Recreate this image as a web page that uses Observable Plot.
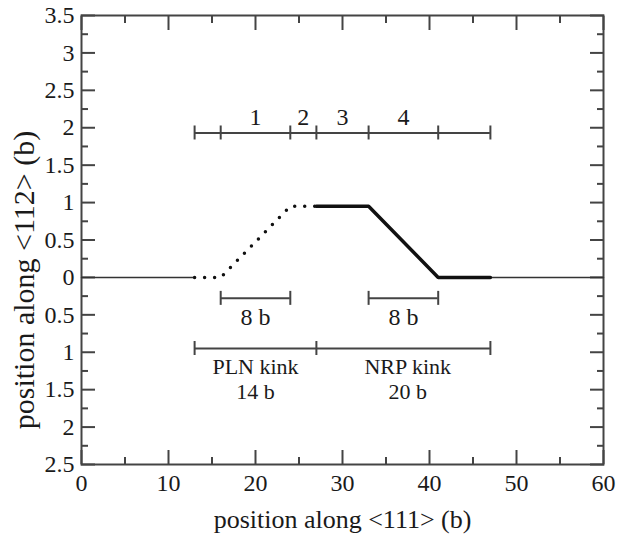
<!DOCTYPE html>
<html><head><meta charset="utf-8">
<script src="https://cdn.jsdelivr.net/npm/d3@7"></script>
<script src="https://cdn.jsdelivr.net/npm/@observablehq/plot@0.6"></script>
<style>body{margin:0;background:#fff}</style>
</head><body><div id="chart"></div>
<script>
// ---- tick values ----
const xMajorTicks = [0, 10, 20, 30, 40, 50, 60];
const xMinorTicks = [5, 15, 25, 35, 45, 55];
const yMajorTicks = [-2.5, -2, -1.5, -1, -0.5, 0, 0.5, 1, 1.5, 2, 2.5, 3, 3.5];
const yMinorTicks = [-2.25, -1.75, -1.25, -0.75, -0.25, 0.25, 0.75, 1.25, 1.75, 2.25, 2.75, 3.25];

// ---- dislocation line ----
const baseLeftX = [0, 13];
const baseRightX = [47, 60];
const baseY = [0, 0];
const plnX = [13, 16, 24, 27];
const plnY = [0, 0, 0.95, 0.95];
const nrpX = [27, 33, 41, 47];
const nrpY = [0.95, 0.95, 0, 0];

// ---- segment bracket (top) ----
const segBracketY = 1.93;
const segTicks = [13, 16, 24, 27, 33, 41, 47];
const segLabels = ["1", "2", "3", "4"];
const segLabelX = [20, 25.5, 30, 37];
const segLabelY = 2.14;

// ---- width brackets ----
const widthBracketY = -0.28;
const widthStarts = [16, 33];
const widthEnds = [24, 41];
const widthLabels = ["8 b", "8 b"];
const widthLabelX = [20, 37];
const widthLabelY = -0.53;

// ---- kink brackets ----
const kinkBracketY = -0.95;
const kinkTicks = [13, 27, 47];
const kinkNames = ["PLN kink", "NRP kink"];
const kinkSizes = ["14 b", "20 b"];
const kinkLabelX = [20, 37.5];
const kinkLabelY = -1.35;

const xLabel = "position along <111> (b)";
const yLabel = "position along <112> (b)";

// ---- build tables ----
const toPts = (xs, ys) => xs.map((x, i) => ({x, y: ys[i]}));
const baseLeft = toPts(baseLeftX, baseY);
const baseRight = toPts(baseRightX, baseY);
const pln = toPts(plnX, plnY);
const nrp = toPts(nrpX, nrpY);

const bracketLines = [
  {x1: d3.min(segTicks), x2: d3.max(segTicks), y: segBracketY},
  ...widthStarts.map((s, i) => ({x1: s, x2: widthEnds[i], y: widthBracketY})),
  {x1: d3.min(kinkTicks), x2: d3.max(kinkTicks), y: kinkBracketY}
];
const bracketTicks = [
  ...segTicks.map(x => ({x, y: segBracketY})),
  ...widthStarts.flatMap((s, i) => [{x: s, y: widthBracketY}, {x: widthEnds[i], y: widthBracketY}]),
  ...kinkTicks.map(x => ({x, y: kinkBracketY}))
];
const labels = [
  ...segLabels.map((t, i) => ({t, x: segLabelX[i], y: segLabelY})),
  ...widthLabels.map((t, i) => ({t, x: widthLabelX[i], y: widthLabelY}))
];
const kinkLabels = kinkNames.map((t, i) => ({t: t + "\n" + kinkSizes[i], x: kinkLabelX[i], y: kinkLabelY}));

const ink = "#444";
const txt = "#1a1a1a";
const fmtAbs = d => String(Math.abs(d));

const chart = Plot.plot({
  width: 618, height: 535,
  marginLeft: 81, marginRight: 15, marginTop: 15, marginBottom: 71,
  x: {domain: [0, 60], label: null},
  y: {domain: [-2.5, 3.5], label: null},
  style: {fontFamily: "'Liberation Serif', 'DejaVu Serif', serif", fontSize: "24px", color: txt, background: "white"},
  marks: [
    // inward ticks, all four sides
    Plot.axisX(xMajorTicks, {anchor: "bottom", tickSize: -14, tickFormat: () => "", stroke: ink, strokeWidth: 2, label: null}),
    Plot.axisX(xMinorTicks, {anchor: "bottom", tickSize: -7, tickFormat: () => "", stroke: ink, strokeWidth: 2, label: null}),
    Plot.axisX(xMajorTicks, {anchor: "top", tickSize: -14, tickFormat: () => "", stroke: ink, strokeWidth: 2, label: null}),
    Plot.axisX(xMinorTicks, {anchor: "top", tickSize: -7, tickFormat: () => "", stroke: ink, strokeWidth: 2, label: null}),
    Plot.axisY(yMajorTicks, {anchor: "left", tickSize: -14, tickFormat: () => "", stroke: ink, strokeWidth: 2, label: null}),
    Plot.axisY(yMinorTicks, {anchor: "left", tickSize: -7, tickFormat: () => "", stroke: ink, strokeWidth: 2, label: null}),
    Plot.axisY(yMajorTicks, {anchor: "right", tickSize: -14, tickFormat: () => "", stroke: ink, strokeWidth: 2, label: null}),
    Plot.axisY(yMinorTicks, {anchor: "right", tickSize: -7, tickFormat: () => "", stroke: ink, strokeWidth: 2, label: null}),
    // tick labels
    Plot.axisX(xMajorTicks, {anchor: "bottom", tickSize: 0, tickPadding: 9, tickFormat: d => String(d), fontSize: 24, label: null}),
    Plot.axisY(yMajorTicks, {anchor: "left", tickSize: 0, tickPadding: 7, tickFormat: fmtAbs, fontSize: 24, label: null}),
    Plot.frame({stroke: ink, strokeWidth: 2}),
    // baseline (straight dislocation)
    Plot.line(baseLeft, {x: "x", y: "y", stroke: "#333", strokeWidth: 1.5}),
    Plot.line(baseRight, {x: "x", y: "y", stroke: "#333", strokeWidth: 1.5}),
    // PLN kink (dotted), NRP kink (solid)
    Plot.line(pln, {x: "x", y: "y", stroke: "#111", strokeWidth: 3.5, strokeDasharray: "0,10", strokeLinecap: "round"}),
    Plot.line(nrp, {x: "x", y: "y", stroke: "#111", strokeWidth: 3.5, strokeLinejoin: "miter"}),
    // brackets
    Plot.ruleY(bracketLines, {x1: "x1", x2: "x2", y: "y", stroke: ink, strokeWidth: 2}),
    Plot.ruleX(bracketTicks, {x: "x", y1: "y", y2: "y", insetTop: -7, insetBottom: -7, stroke: ink, strokeWidth: 2}),
    Plot.text(labels, {x: "x", y: "y", text: "t", fontSize: 24, fill: txt}),
    Plot.text(kinkLabels, {x: "x", y: "y", text: "t", fontSize: 22, lineHeight: 1.15, fill: txt}),
    // axis titles
    Plot.text([xLabel], {frameAnchor: "bottom", text: d => d, textAnchor: "middle", lineAnchor: "bottom", dy: 63, fontSize: 26, fill: txt}),
    Plot.text([yLabel], {frameAnchor: "left", text: d => d, textAnchor: "middle", rotate: -90, lineAnchor: "bottom", dx: -48, dy: 40, fontSize: 30, fill: txt})
  ]
});
document.getElementById("chart").append(chart);
</script>
</body></html>
